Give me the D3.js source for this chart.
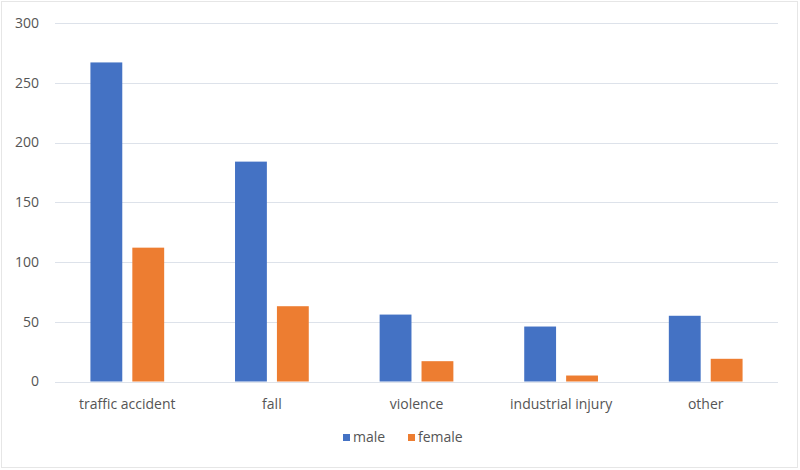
<!DOCTYPE html>
<html>
<head>
<meta charset="utf-8">
<script src="https://cdn.jsdelivr.net/npm/d3@7"></script>
<style>
  body { margin: 0; background: #fff; }
  svg { display: block; font-family: "Open Sans", sans-serif; }
</style>
</head>
<body>
<svg width="800" height="470"></svg>
<script>
var svg = d3.select('svg');

// data
var categories = ['traffic accident', 'fall', 'violence', 'industrial injury', 'other'];
var series = ['male', 'female'];
var maleValues = [267, 184, 56, 46, 55];
var femaleValues = [112, 63, 17, 5, 19];
var yTicks = [0, 50, 100, 150, 200, 250, 300];

var colors = {male: '#4472C4', female: '#ED7D31'};
var textColor = '#555555';

var data = categories.map((c, i) => ({category: c, male: maleValues[i], female: femaleValues[i]}));

//define plot area
var plot = {left: 55, right: 778, top: 23, bottom: 381.5};

// chart border
svg.append('rect')
   .attr('x', 1.5).attr('y', 1.5)
   .attr('width', 796).attr('height', 466)
   .attr('fill', 'none')
   .attr('stroke', '#e6e6e6');

var yScale = d3.scaleLinear()
   .domain([0, 300])
   .range([plot.bottom, plot.top]);

var x0 = d3.scaleBand()
   .domain(categories)
   .range([plot.left, plot.right])
   .paddingInner(0.49)
   .paddingOuter(0.245);

var x1 = d3.scaleBand()
   .domain(series)
   .range([0, x0.bandwidth()])
   .paddingInner(0.24);

//gridlines
svg.append('g')
   .selectAll('line').data(yTicks)
   .enter().append('line')
   .attr('x1', plot.left).attr('x2', plot.right)
   .attr('y1', d => Math.round(yScale(d)) + 0.5)
   .attr('y2', d => Math.round(yScale(d)) + 0.5)
   .attr('stroke', '#dde2ea')
   .attr('stroke-width', 1.2);

//Y axis labels
var yAxis = d3.axisLeft(yScale).tickValues(yTicks).tickSize(0).tickPadding(0);
svg.append('g')
   .attr('transform', 'translate(39,0)')
   .call(yAxis)
   .call(g => g.select('.domain').remove())
   .selectAll('text')
   .attr('fill', textColor)
   .style('font-size', '14px')
   .style('font-family', '"Open Sans", sans-serif');

//bars
var groups = svg.append('g')
   .selectAll('g').data(data)
   .enter().append('g')
   .attr('transform', d => 'translate(' + x0(d.category) + ',0)');

groups.selectAll('rect')
   .data(d => series.map(s => ({key: s, value: d[s]})))
   .enter().append('rect')
   .attr('x', d => x1(d.key))
   .attr('y', d => yScale(d.value))
   .attr('width', x1.bandwidth())
   .attr('height', d => yScale(0) - yScale(d.value))
   .attr('fill', d => colors[d.key]);

//X axis labels
var xAxis = d3.axisBottom(x0).tickSize(0).tickPadding(0);
svg.append('g')
   .attr('transform', 'translate(0,399)')
   .call(xAxis)
   .call(g => g.select('.domain').remove())
   .selectAll('text')
   .attr('fill', textColor)
   .style('font-size', '14px')
   .style('font-family', '"Open Sans", sans-serif');

//legend
var legendX = d3.scalePoint().domain(series).range([343, 408]);
var legend = svg.append('g')
   .selectAll('g').data(series)
   .enter().append('g')
   .attr('transform', d => 'translate(' + legendX(d) + ',434)');

legend.append('rect')
   .attr('width', 7).attr('height', 7)
   .attr('fill', d => colors[d]);

legend.append('text')
   .attr('x', 10).attr('y', 8)
   .attr('fill', textColor)
   .style('font-size', '14px')
   .text(d => d);
</script>
</body>
</html>
